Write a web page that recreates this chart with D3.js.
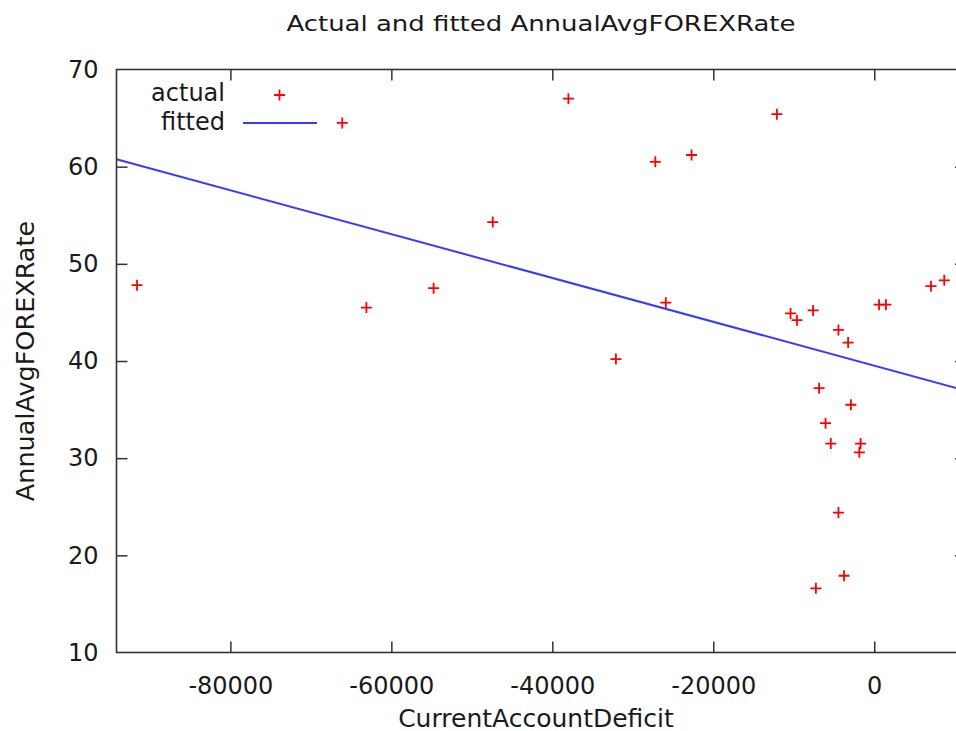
<!DOCTYPE html>
<html>
<head>
<meta charset="utf-8">
<script src="https://cdn.jsdelivr.net/npm/d3@7"></script>
<style>
  body { margin: 0; background: #fff; }
  text { font-family: "DejaVu Sans", Verdana, sans-serif; fill: #1a1a1a; }
</style>
</head>
<body>
<div id="chart"></div>
<script>
// Data: CurrentAccountDeficit (x) and AnnualAvgFOREXRate (y)
const deficit = [-91600, -66100, -63100, -54750, -47400, -38000, -32100, -27200, -25900, -22700,
  -12100, -10400, -9600, -7600, -7250, -6850, -6050, -5400, -4450, -4450,
  -3750, -3250, -2900, -1850, -1700, 600, 1450, 7050, 8700];
const forexRate = [47.8, 64.5, 45.5, 47.5, 54.3, 67.0, 40.2, 60.5, 46.0, 61.2,
  65.4, 44.9, 44.2, 45.2, 16.6, 37.2, 33.6, 31.5, 43.2, 24.4,
  17.9, 41.9, 35.5, 30.6, 31.5, 45.8, 45.8, 47.7, 48.3];

// Fitted line, end points
const fittedX = [-94150, 11400];
const fittedY = [60.76, 36.95];

const xTicks = [-80000, -60000, -40000, -20000, 0];
const yTicks = [10, 20, 30, 40, 50, 60, 70];

// Plot box in page pixels (right side runs slightly past the window, as in the original)
const W = 956, H = 731;
const box = { left: 116.5, right: 966, top: 69.5, bottom: 652.5 };

const svg = d3.select("#chart")
    .append("svg")
    .attr("width", W)
    .attr("height", H);

const x = d3.scaleLinear()
    .domain([fittedX[0], fittedX[1]])
    .range([box.left, box.right]);

const y = d3.scaleLinear()
    .domain([10, 70])
    .range([box.bottom, box.top]);

// Title
svg.append("text")
    .attr("x", 541)
    .attr("y", 31)
    .attr("text-anchor", "middle")
    .attr("textLength", 509)
    .attr("lengthAdjust", "spacingAndGlyphs")
    .style("font-family", "'DejaVu Sans Condensed', 'DejaVu Sans', sans-serif")
    .style("font-size", "22px")
    .text("Actual and fitted AnnualAvgFOREXRate");

svg.append("clipPath").attr("id", "plotclip")
    .append("rect")
    .attr("x", box.left).attr("y", box.top)
    .attr("width", box.right - box.left).attr("height", box.bottom - box.top);

// Fitted line
const line = d3.line()
    .x(d => x(d[0]))
    .y(d => y(d[1]));
svg.append("path")
    .datum(d3.zip(fittedX, fittedY))
    .attr("clip-path", "url(#plotclip)")
    .attr("fill", "none")
    .attr("stroke", "#3a3aff")
    .attr("stroke-width", 2)
    .attr("d", line);

// Actual points as "+" marks
const plus = (cx, cy, r) => `M${cx - r},${cy}H${cx + r}M${cx},${cy - r}V${cy + r}`;
svg.append("g")
    .selectAll("path")
    .data(d3.zip(deficit, forexRate))
    .enter()
    .append("path")
    .attr("d", d => plus(x(d[0]), y(d[1]), 5.5))
    .attr("stroke", "#ff0000")
    .attr("stroke-width", 1.8)
    .attr("fill", "none");

// Axes: ticks point inward, mirrored on top and right
const tickLen = 11;
const axisColor = "#333";

const xAxis = svg.append("g")
    .attr("transform", `translate(0,${box.bottom})`)
    .call(d3.axisBottom(x).tickValues(xTicks).tickSizeInner(-tickLen).tickSizeOuter(0).tickPadding(20).tickFormat(d => String(d)));
const xAxisTop = svg.append("g")
    .attr("transform", `translate(0,${box.top})`)
    .call(d3.axisTop(x).tickValues(xTicks).tickSizeInner(-tickLen).tickSizeOuter(0).tickFormat(""));
const yAxis = svg.append("g")
    .attr("transform", `translate(${box.left},0)`)
    .call(d3.axisLeft(y).tickValues(yTicks).tickSizeInner(-tickLen).tickSizeOuter(0).tickPadding(18));
const yAxisRight = svg.append("g")
    .attr("transform", `translate(${box.right},0)`)
    .call(d3.axisRight(y).tickValues(yTicks).tickSizeInner(-tickLen).tickSizeOuter(0).tickFormat(""));

[xAxis, xAxisTop, yAxis, yAxisRight].forEach(g => {
    g.select(".domain").remove();
    g.selectAll(".tick line").attr("stroke", axisColor).attr("stroke-width", 1.5);
    g.selectAll(".tick text")
        .style("font-family", "'DejaVu Sans', sans-serif")
        .style("font-size", "24px")
        .attr("fill", "#1a1a1a");
});
xAxis.selectAll(".tick text").attr("dy", "0.9em");
// the end ticks on the y axes sit on the border
yAxis.selectAll(".tick line").filter(d => d === 10 || d === 70).remove();
yAxisRight.selectAll(".tick line").filter(d => d === 10 || d === 70).remove();

// Border
svg.append("rect")
    .attr("x", box.left).attr("y", box.top)
    .attr("width", box.right - box.left).attr("height", box.bottom - box.top)
    .attr("fill", "none")
    .attr("stroke", axisColor)
    .attr("stroke-width", 1.6);

// Axis labels
svg.append("text")
    .attr("x", 536)
    .attr("y", 727)
    .attr("text-anchor", "middle")
    .style("font-size", "25px")
    .text("CurrentAccountDeficit");

svg.append("text")
    .attr("transform", "translate(34,361) rotate(-90)")
    .attr("text-anchor", "middle")
    .style("font-size", "25.5px")
    .text("AnnualAvgFOREXRate");

// Legend
const legend = svg.append("g");
legend.append("text")
    .attr("x", 225).attr("y", 93).attr("dy", "0.35em")
    .attr("text-anchor", "end")
    .style("font-size", "24px")
    .text("actual");
legend.append("path")
    .attr("d", plus(279.5, 95, 5.5))
    .attr("stroke", "#ff0000")
    .attr("stroke-width", 1.8);
legend.append("text")
    .attr("x", 225).attr("y", 122).attr("dy", "0.35em")
    .attr("text-anchor", "end")
    .style("font-size", "24px")
    .text("fitted");
legend.append("line")
    .attr("x1", 243).attr("x2", 317)
    .attr("y1", 123).attr("y2", 123)
    .attr("stroke", "#3a3aff")
    .attr("stroke-width", 2);
</script>
</body>
</html>
